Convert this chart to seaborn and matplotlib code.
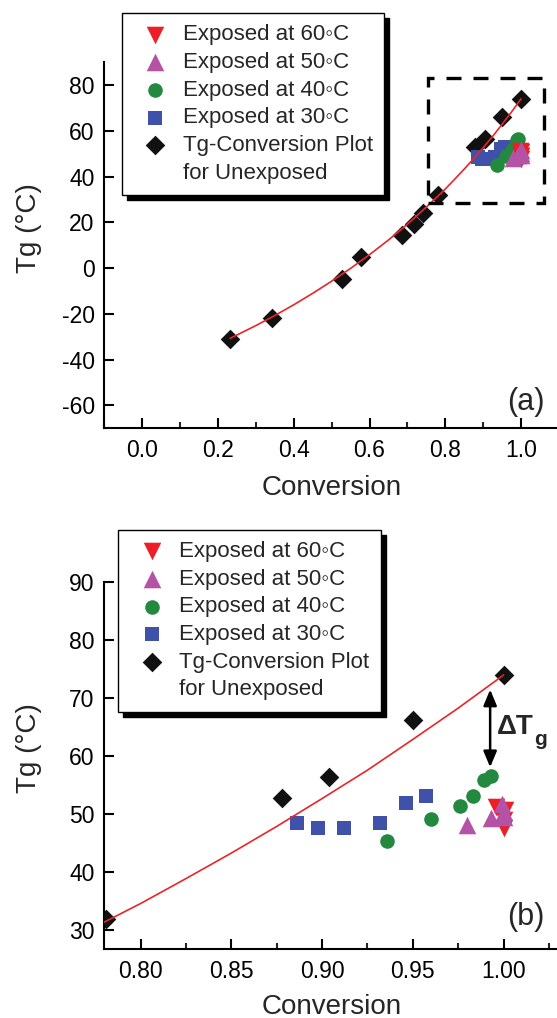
import matplotlib
matplotlib.use("Agg")
import numpy as np
import pandas as pd
import seaborn as sns
import matplotlib.pyplot as plt
from matplotlib.patches import Rectangle
from matplotlib.lines import Line2D
from matplotlib.ticker import MultipleLocator, FormatStrFormatter

# ---------------- data ----------------
unexp_x = [0.232, 0.342, 0.528, 0.577, 0.686, 0.718, 0.741, 0.781, 0.878, 0.904, 0.950, 1.000]
unexp_y = [-30.8, -21.6, -4.7, 4.8, 14.6, 19.5, 24.1, 32.0, 52.8, 56.5, 66.2, 74.0]

exp30_x = [0.886, 0.898, 0.912, 0.932, 0.946, 0.957]
exp30_y = [48.4, 47.6, 47.7, 48.4, 51.9, 53.1]

exp40_x = [0.936, 0.960, 0.976, 0.983, 0.989, 0.993]
exp40_y = [45.3, 49.1, 51.5, 53.1, 55.9, 56.6]

exp50_x = [0.980, 0.993, 0.999, 1.000, 1.000]
exp50_y = [48.1, 49.4, 51.8, 50.4, 49.6]

exp60_x = [0.996, 1.001, 1.000, 1.000]
exp60_y = [51.3, 50.7, 49.0, 47.6]

curve_x = [0.232, 0.30, 0.35, 0.40, 0.45, 0.50, 0.55, 0.60, 0.65, 0.70, 0.75, 0.78,
           0.80, 0.825, 0.85, 0.875, 0.90, 0.925, 0.95, 0.975, 1.00]
curve_y = [-30.7, -25.1, -20.7, -16.0, -11.0, -5.7, -0.1, 5.9, 12.3, 19.2, 26.7, 31.4,
           34.6, 38.9, 43.3, 47.9, 52.7, 57.6, 62.9, 68.3, 74.0]

labels = ["Exposed at 60\u25e6C", "Exposed at 50\u25e6C", "Exposed at 40\u25e6C",
          "Exposed at 30\u25e6C", "Tg-Conversion Plot", "for Unexposed"]

box_a = (0.755, 28.5, 1.061, 83.2)   # dashed zoom box (x0, y0, x1, y1)
dtg_x, dtg_top, dtg_bot = 0.9926, 71.5, 58.1

# ---------------- style ----------------
sns.set_style("ticks")
plt.rcParams["font.family"] = ["Liberation Sans", "DejaVu Sans"]
plt.rcParams["axes.unicode_minus"] = False

RED = "#EC1F26"
MAG = "#B452A6"
GRN = "#23893F"
BLU = "#3F51A9"
BLK = "#111111"
CURVE = "#E8262A"

fig = plt.figure(figsize=(5.57, 10.18), dpi=100)
fig.patch.set_facecolor("white")
ax_a = fig.add_axes([0.1874, 0.5793, 1.0034 - 0.1874, 0.9388 - 0.5793])
ax_b = fig.add_axes([0.1874, 0.0675, 1.0018 - 0.1874, 0.4280 - 0.0675])


def draw(ax):
    sns.scatterplot(x=unexp_x, y=unexp_y, ax=ax, marker="D", s=100, color=BLK,
                    linewidth=0, label=labels[4], zorder=2)
    sns.scatterplot(x=exp30_x, y=exp30_y, ax=ax, marker="s", s=110, color=BLU,
                    linewidth=0, label=labels[3], zorder=2)
    sns.scatterplot(x=exp40_x, y=exp40_y, ax=ax, marker="o", s=110, color=GRN,
                    linewidth=0, label=labels[2], zorder=2)
    sns.scatterplot(x=exp60_x, y=exp60_y, ax=ax, marker="v", s=160, color=RED,
                    linewidth=0, label=labels[0], zorder=2)
    sns.scatterplot(x=exp50_x, y=exp50_y, ax=ax, marker="^", s=160, color=MAG,
                    linewidth=0, label=labels[1], zorder=2)
    sns.lineplot(x=curve_x, y=curve_y, ax=ax, color=CURVE, lw=1.2,
                 estimator=None, sort=False, zorder=3)
    sns.despine(ax=ax)
    for sp in ("left", "bottom"):
        ax.spines[sp].set_linewidth(1.5)
        ax.spines[sp].set_color("black")
    ax.tick_params(which="major", direction="in", length=7, width=1.5,
                   labelsize=16.5, colors="black")
    ax.tick_params(axis="x", which="major", pad=8)
    ax.tick_params(axis="y", which="major", pad=7)
    ax.tick_params(axis="x", which="minor", direction="in", length=4, width=1.5)
    ax.tick_params(axis="y", which="minor", length=0)
    ax.set_xlabel("Conversion", fontsize=20)
    ax.set_ylabel("Tg (\u00b0C)", fontsize=20)
    ax.yaxis.set_label_coords(-0.137, 0.547)

    h, l = ax.get_legend_handles_labels()
    hmap = dict(zip(l, h))
    blank = Line2D([], [], linestyle="none", marker=None)
    handles = [hmap[labels[0]], hmap[labels[1]], hmap[labels[2]],
               hmap[labels[3]], hmap[labels[4]], blank]
    return handles


def legend(ax, handles, x0, y0):
    leg = ax.legend(handles, labels, loc="upper left", bbox_to_anchor=(x0, y0),
                    bbox_transform=fig.transFigure, borderaxespad=0, frameon=True,
                    fancybox=False, edgecolor="black", framealpha=1, fontsize=16,
                    labelspacing=0.3, handlelength=2.0, handletextpad=0.25,
                    borderpad=0.5,
                    shadow={"ox": 3.6, "oy": -3.6, "facecolor": "black",
                            "edgecolor": "black", "alpha": 1})
    leg.get_frame().set_linewidth(1.0)
    leg.set_zorder(10)
    return leg


# ---------------- panel (a) ----------------
ha = draw(ax_a)
ax_a.xaxis.set_label_coords(0.5, -0.128)
ax_a.set_xlim(-0.1, 1.1)
ax_a.set_ylim(-70, 90)
ax_a.xaxis.set_major_locator(MultipleLocator(0.2))
ax_a.xaxis.set_minor_locator(MultipleLocator(0.1))
ax_a.xaxis.set_major_formatter(FormatStrFormatter("%.1f"))
ax_a.set_yticks([-60, -40, -20, 0, 20, 40, 60, 80])
ax_a.add_patch(Rectangle((box_a[0], box_a[1]), box_a[2] - box_a[0], box_a[3] - box_a[1],
                         fill=False, edgecolor="black", lw=2.4,
                         linestyle=(0, (4.5, 3.6)), zorder=4, clip_on=False))
legend(ax_a, ha, 122 / 557, 1 - 13.3 / 1018)
ax_a.text(0.9276, 0.0727, "(a)", transform=ax_a.transAxes, fontsize=22,
          ha="center", va="center")

# ---------------- panel (b) ----------------
hb = draw(ax_b)
ax_b.xaxis.set_label_coords(0.5, -0.121)
ax_b.set_xlim(0.78, 1.03)
ax_b.set_ylim(26.7, 90)
ax_b.xaxis.set_major_locator(MultipleLocator(0.05))
ax_b.xaxis.set_minor_locator(MultipleLocator(0.025))
ax_b.xaxis.set_major_formatter(FormatStrFormatter("%.2f"))
ax_b.set_yticks([30, 40, 50, 60, 70, 80, 90])
ax_b.annotate("", xy=(dtg_x, dtg_bot), xytext=(dtg_x, dtg_top),
              arrowprops=dict(arrowstyle="<|-|>,head_length=0.6,head_width=0.25",
                              color="black", lw=1.8, shrinkA=0, shrinkB=0,
                              mutation_scale=16))
t1 = ax_b.text(0.9963, 65.0, "\u0394T", fontsize=20, fontweight="bold",
               ha="left", va="center")
ax_b.annotate("g", xy=(1, 0), xycoords=t1, xytext=(0.5, -3.4),
              textcoords="offset points", fontsize=15, fontweight="bold",
              ha="left", va="baseline")
legend(ax_b, hb, 118.3 / 557, 1 - 530 / 1018)
ax_b.text(0.9288, 0.0888, "(b)", transform=ax_b.transAxes, fontsize=22,
          ha="center", va="center")

fig.savefig("out.png", dpi=100, facecolor="white")
